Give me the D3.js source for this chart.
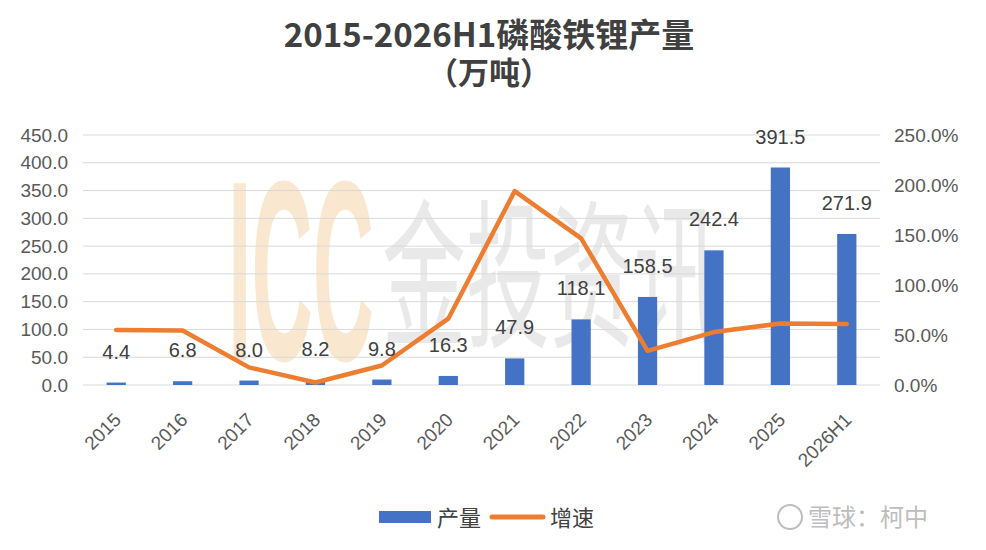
<!DOCTYPE html>
<html>
<head>
<meta charset="utf-8">
<script src="https://cdn.jsdelivr.net/npm/d3@7"></script>
<style>
  body { margin: 0; background: #fff; }
  text { font-family: "Liberation Sans", "Noto Sans CJK SC", sans-serif; }
</style>
</head>
<body>
<div id="chart"></div>
<script>
// data
var years = ["2015", "2016", "2017", "2018", "2019", "2020", "2021", "2022", "2023", "2024", "2025", "2026H1"];
var output = [4.4, 6.8, 8.0, 8.2, 9.8, 16.3, 47.9, 118.1, 158.5, 242.4, 391.5, 271.9];
var growth = [55.0, 54.5, 17.6, 2.5, 19.5, 66.3, 193.9, 146.6, 34.2, 52.9, 61.5, 61.0];
var leftTicks = [0, 50, 100, 150, 200, 250, 300, 350, 400, 450];
var rightTicks = [0, 50, 100, 150, 200, 250];
var seriesNames = ["产量", "增速"];

var svgWidth = 986;
var svgHeight = 550;
var margin = { top: 135, right: 106, bottom: 165, left: 83 };
var width = svgWidth - margin.left - margin.right;
var height = svgHeight - margin.top - margin.bottom;

var blue = "#4472C4";
var orange = "#ED7D31";
var cjk = "'Noto Sans CJK SC', sans-serif";
var latin = "'Liberation Sans', sans-serif";

var svg = d3.select("#chart")
  .append("svg")
  .attr("width", svgWidth)
  .attr("height", svgHeight);

// title
svg.append("text")
  .attr("x", 489).attr("y", 47)
  .attr("text-anchor", "middle")
  .attr("font-size", 33)
  .attr("font-weight", "bold")
  .attr("fill", "#404040")
  .style("font-family", cjk)
  .text("2015-2026H1磷酸铁锂产量");
svg.append("text")
  .attr("x", 489).attr("y", 84)
  .attr("text-anchor", "middle")
  .attr("font-size", 31)
  .attr("font-weight", "bold")
  .attr("fill", "#404040")
  .style("font-family", cjk)
  .text("（万吨）");

// faint watermark behind the plot
var wm = svg.append("g").attr("pointer-events", "none");
wm.append("text")
  .attr("x", 0).attr("y", 0)
  .attr("text-anchor", "middle")
  .attr("font-size", 257)
  .attr("font-weight", "bold")
  .attr("fill", "#f9e7cf")
  .attr("transform", "translate(301,360) scale(0.33,1)")
  .style("font-family", "'Liberation Sans Narrow', 'Liberation Sans', sans-serif")
  .text("ICC");
wm.append("text")
  .attr("x", 0).attr("y", 0)
  .attr("text-anchor", "middle")
  .attr("font-size", 80)
  .attr("fill", "#dedede")
  .attr("opacity", 0.65)
  .attr("transform", "translate(550,335) scale(1.05,2)")
  .style("font-family", cjk)
  .text("金投资讯");

var chartGroup = svg.append("g")
  .attr("transform", `translate(${margin.left}, ${margin.top})`);

// scales
var xScale = d3.scaleBand()
  .domain(years)
  .range([0, width])
  .paddingInner(0.71)
  .paddingOuter(0.355);

var yLeft = d3.scaleLinear()
  .domain([0, 450])
  .range([height, 0]);

var yRight = d3.scaleLinear()
  .domain([0, 250])
  .range([height, 0]);

// gridlines
chartGroup.append("g")
  .selectAll("line")
  .data(leftTicks)
  .enter()
  .append("line")
  .attr("x1", 0)
  .attr("x2", width)
  .attr("y1", d => yLeft(d))
  .attr("y2", d => yLeft(d))
  .attr("stroke", "#d9d9d9")
  .attr("stroke-width", 1);

// left axis
var leftAxis = d3.axisLeft(yLeft)
  .tickValues(leftTicks)
  .tickFormat(d3.format(".1f"))
  .tickSize(0)
  .tickPadding(15);
var gl = chartGroup.append("g").call(leftAxis);
gl.select(".domain").remove();
gl.selectAll("text")
  .attr("font-size", 19)
  .attr("fill", "#595959")
  .style("font-family", latin);

// right axis
var rightAxis = d3.axisRight(yRight)
  .tickValues(rightTicks)
  .tickFormat(d => d3.format(".1f")(d) + "%")
  .tickSize(0)
  .tickPadding(14);
var gr = chartGroup.append("g")
  .attr("transform", `translate(${width}, 0)`)
  .call(rightAxis);
gr.select(".domain").remove();
gr.selectAll("text")
  .attr("font-size", 19)
  .attr("fill", "#595959")
  .style("font-family", latin);

// bottom axis
var bottomAxis = d3.axisBottom(xScale).tickSize(0).tickPadding(0);
var gb = chartGroup.append("g")
  .attr("transform", `translate(0, ${height})`)
  .call(bottomAxis);
gb.select(".domain").remove();
gb.selectAll("text")
  .attr("font-size", 19)
  .attr("fill", "#595959")
  .attr("text-anchor", "end")
  .attr("dy", "0")
  .attr("transform", "translate(6, 36) rotate(-45)")
  .style("font-family", latin);

// bars
chartGroup.selectAll(".bar")
  .data(output)
  .enter()
  .append("rect")
  .attr("class", "bar")
  .attr("x", (d, i) => xScale(years[i]))
  .attr("y", d => yLeft(d))
  .attr("width", xScale.bandwidth())
  .attr("height", d => height - yLeft(d))
  .attr("fill", blue);

// line
var line = d3.line()
  .x((d, i) => xScale(years[i]) + xScale.bandwidth() / 2)
  .y(d => yRight(d));

chartGroup.append("path")
  .datum(growth)
  .attr("d", line)
  .attr("fill", "none")
  .attr("stroke", orange)
  .attr("stroke-width", 4.5)
  .attr("stroke-linejoin", "round")
  .attr("stroke-linecap", "round");

// bar value labels
chartGroup.selectAll(".barLabel")
  .data(output)
  .enter()
  .append("text")
  .attr("class", "barLabel")
  .attr("x", (d, i) => xScale(years[i]) + xScale.bandwidth() / 2)
  .attr("y", d => yLeft(d) - 24)
  .attr("text-anchor", "middle")
  .attr("font-size", 20)
  .attr("fill", "#404040")
  .style("font-family", latin)
  .text(d => d.toFixed(1));

// legend
var legend = svg.append("g");
legend.append("rect")
  .attr("x", 379).attr("y", 511)
  .attr("width", 52).attr("height", 12)
  .attr("fill", blue);
legend.append("text")
  .attr("x", 437).attr("y", 526)
  .attr("font-size", 22)
  .attr("fill", "#404040")
  .style("font-family", cjk)
  .text(seriesNames[0]);
legend.append("line")
  .attr("x1", 492).attr("x2", 543)
  .attr("y1", 517).attr("y2", 517)
  .attr("stroke", orange)
  .attr("stroke-width", 5)
  .attr("stroke-linecap", "round");
legend.append("text")
  .attr("x", 550).attr("y", 526)
  .attr("font-size", 22)
  .attr("fill", "#404040")
  .style("font-family", cjk)
  .text(seriesNames[1]);

// source mark, bottom right
svg.append("circle")
  .attr("cx", 790).attr("cy", 517).attr("r", 12)
  .attr("fill", "none")
  .attr("stroke", "#bdbdbd")
  .attr("stroke-width", 2);
svg.append("text")
  .attr("x", 808).attr("y", 526)
  .attr("font-size", 24)
  .attr("fill", "#bdbdbd")
  .style("font-family", cjk)
  .text("雪球：柯中");
</script>
</body>
</html>
